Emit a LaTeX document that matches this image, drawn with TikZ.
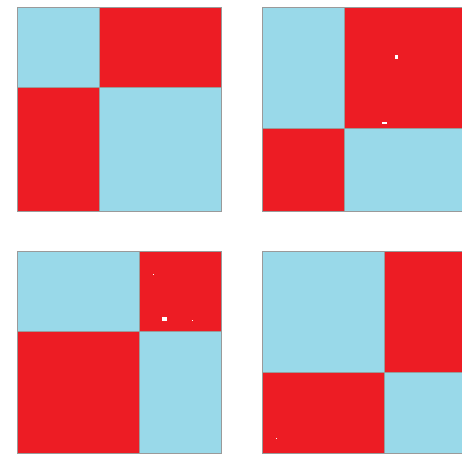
\documentclass[tikz,border=0pt]{standalone}
\definecolor{cred}{HTML}{ED1C24}
\definecolor{cblue}{HTML}{99D9E9}
\definecolor{cgray}{HTML}{9A9A9A}
\tikzset{
  redcell/.style={fill=cred, draw=cgray, line width=0.8pt},
  bluecell/.style={fill=cblue, draw=cgray, line width=0.8pt},
  speck/.style={fill=white, draw=none}
}
% #1 left, #2 top, #3 right, #4 bottom, #5 split x, #6 split y
\newcommand{\qpanel}[6]{%
  \path[bluecell] (#1,#2) rectangle (#5,#6);
  \path[redcell]  (#5,#2) rectangle (#3,#6);
  \path[redcell]  (#1,#6) rectangle (#5,#4);
  \path[bluecell] (#5,#6) rectangle (#3,#4);
}
\begin{document}
\begin{tikzpicture}[x=1pt,y=-1pt]
\useasboundingbox (0,0) rectangle (462,461);
\begin{scope}
\clip (0,0) rectangle (462,461);
\qpanel{17}{7}{221}{211}{99}{87}
\qpanel{262}{7}{466}{211}{344}{128}
\qpanel{17}{251}{221}{453}{139}{331}
\qpanel{262}{251}{466}{453}{384}{372}
% white specks
\path[speck] (395,55) rectangle (398,59);
\path[speck] (382,122) rectangle (387,124);
\path[speck] (162,317) rectangle (167,321);
\path[speck] (152.5,273.5) rectangle (154,275);
\path[speck] (191.5,319.5) rectangle (193,321);
\path[speck] (275.5,437.5) rectangle (277,439);
\end{scope}
\end{tikzpicture}
\end{document}
